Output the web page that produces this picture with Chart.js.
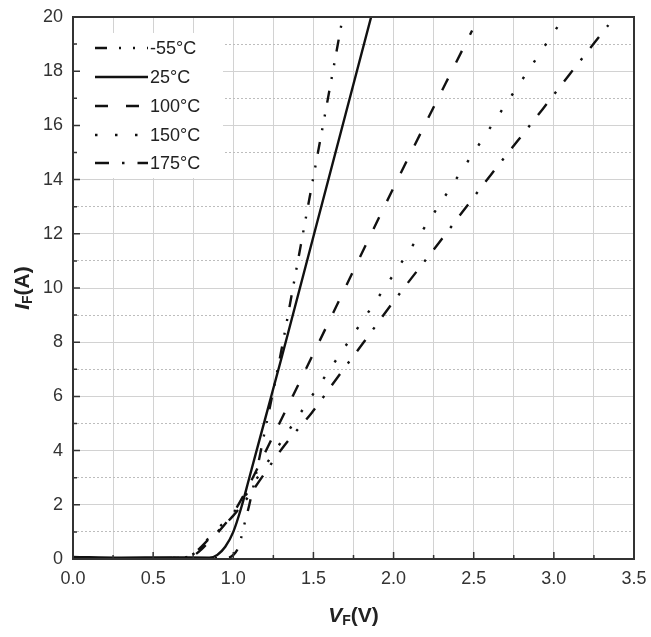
<!DOCTYPE html>
<html>
<head>
<meta charset="utf-8">
<script src="https://cdn.jsdelivr.net/npm/chart.js@4.4.1/dist/chart.umd.min.js"></script>
<style>
html, body { margin: 0; padding: 0; background: #fff; }
</style>
</head>
<body>
<canvas id="chart" width="651" height="637"></canvas>
<script>
// forward voltage (V) / forward current (A)
const vfM55 = [0, 0.5, 0.9, 0.97, 1.0, 1.03, 1.05, 1.07, 1.1, 1.2, 1.3, 1.4, 1.5, 1.6, 1.68];
const ifM55 = [0.03, 0.03, 0.03, 0.05, 0.15, 0.4, 0.8, 1.3, 2.0, 4.8, 7.7, 10.9, 14.1, 17.3, 19.9];

const vf25 = [0, 0.3, 0.6, 0.85, 0.9, 0.95, 1.0, 1.05, 1.1, 1.2, 1.3, 1.5, 1.7, 1.86];
const if25 = [0.08, 0.05, 0.06, 0.05, 0.15, 0.45, 1.0, 1.9, 3.0, 5.2, 7.4, 11.9, 16.4, 20];

const vf100 = [0, 0.5, 0.7, 0.75, 0.8, 0.85, 0.9, 1.0, 1.1, 1.2, 1.37, 1.6, 2.0, 2.49];
const if100 = [0.03, 0.03, 0.05, 0.12, 0.35, 0.65, 0.95, 1.7, 2.75, 3.95, 6.0, 8.8, 13.7, 19.5];

const vf150 = [0, 0.5, 0.7, 0.75, 0.8, 0.85, 0.9, 0.95, 1.0, 1.1, 1.2, 1.5, 2.0, 2.5, 3.03];
const if150 = [0.03, 0.03, 0.06, 0.18, 0.45, 0.8, 1.1, 1.4, 1.7, 2.55, 3.45, 6.1, 10.5, 15.0, 19.7];

const vf175 = [0, 0.5, 0.7, 0.75, 0.8, 0.85, 0.9, 1.0, 1.1, 1.2, 1.32, 1.49, 1.65, 1.81, 2.0, 2.3, 2.61, 2.93, 3.1, 3.34];
const if175 = [0.03, 0.03, 0.06, 0.18, 0.45, 0.75, 1.0, 1.6, 2.35, 3.2, 4.2, 5.4, 6.7, 7.97, 9.5, 11.8, 14.2, 16.6, 17.9, 19.7];

const labels = ['-55°C', '25°C', '100°C', '150°C', '175°C'];
const dashes = [[12, 12, 2, 12, 2, 12], [], [13, 18], [2.5, 17.5], [14, 13, 2.5, 13]];

const FONT = '"Liberation Sans", Arial, sans-serif';

function toPoints(xs, ys) {
    return xs.map((x, i) => ({ x: x, y: ys[i] }));
}

const series = [
    toPoints(vfM55, ifM55),
    toPoints(vf25, if25),
    toPoints(vf100, if100),
    toPoints(vf150, if150),
    toPoints(vf175, if175)
];

const datasets = series.map((pts, i) => ({
    label: labels[i],
    data: pts,
    borderColor: '#111',
    borderWidth: 2.4,
    borderDash: dashes[i],
    pointRadius: 0,
    fill: false,
    cubicInterpolationMode: 'monotone'
}));

function drawTitle(ctx, x, y, main, sub, rest) {
    ctx.font = 'italic bold 21px ' + FONT;
    const w1 = ctx.measureText(main).width;
    ctx.font = 'bold 14px ' + FONT;
    const w2 = ctx.measureText(sub).width;
    ctx.font = 'bold 21px ' + FONT;
    const w3 = ctx.measureText(rest).width;
    let sx = x - (w1 + w2 + w3) / 2;
    ctx.textBaseline = 'alphabetic';
    ctx.textAlign = 'left';
    ctx.font = 'italic bold 21px ' + FONT;
    ctx.fillText(main, sx, y + 7);
    sx += w1;
    ctx.font = 'bold 14px ' + FONT;
    ctx.fillText(sub, sx, y + 10);
    sx += w2;
    ctx.font = 'bold 21px ' + FONT;
    ctx.fillText(rest, sx, y + 7);
}

const extras = {
    id: 'extras',
    beforeDatasetsDraw(chart) {
        // white box behind the legend hides the grid
        const ctx = chart.ctx;
        ctx.save();
        ctx.fillStyle = '#fff';
        ctx.fillRect(76, 33, 147, 145);
        ctx.restore();
    },
    afterDraw(chart) {
        const { ctx, chartArea: a, scales } = chart;
        ctx.save();

        // inward tick marks
        ctx.strokeStyle = '#333';
        ctx.lineWidth = 1.5;
        ctx.beginPath();
        for (let i = 1; i < 14; i++) {
            const px = scales.x.getPixelForValue(i * 0.25);
            const len = i % 2 === 0 ? 7 : 4;
            ctx.moveTo(px, a.bottom);
            ctx.lineTo(px, a.bottom - len);
        }
        for (let v = 1; v < 20; v++) {
            const py = scales.y.getPixelForValue(v);
            const len = v % 2 === 0 ? 7 : 4;
            ctx.moveTo(a.left, py);
            ctx.lineTo(a.left + len, py);
        }
        ctx.stroke();

        // frame
        ctx.strokeStyle = '#333';
        ctx.lineWidth = 2;
        ctx.strokeRect(a.left, a.top, a.right - a.left, a.bottom - a.top);

        // legend
        const ys = [48, 77, 106, 135, 163];
        ctx.fillStyle = '#222';
        ctx.font = '18px ' + FONT;
        ctx.textBaseline = 'middle';
        ctx.textAlign = 'left';
        labels.forEach((lab, i) => {
            ctx.beginPath();
            ctx.strokeStyle = '#111';
            ctx.lineWidth = 2.6;
            ctx.setLineDash(dashes[i]);
            ctx.moveTo(95, ys[i]);
            ctx.lineTo(148, ys[i]);
            ctx.stroke();
            ctx.setLineDash([]);
            ctx.fillText(lab, 150, ys[i] + 1);
        });

        // axis titles
        ctx.fillStyle = '#222';
        drawTitle(ctx, (a.left + a.right) / 2, 615, 'V', 'F', '(V)');
        ctx.translate(22, (a.top + a.bottom) / 2);
        ctx.rotate(-Math.PI / 2);
        drawTitle(ctx, 0, 0, 'I', 'F', '(A)');
        ctx.restore();
    }
};

new Chart(document.getElementById('chart').getContext('2d'), {
    type: 'line',
    data: { datasets: datasets },
    options: {
        responsive: false,
        devicePixelRatio: 1,
        animation: false,
        layout: { padding: { left: 0, right: 17, top: 17, bottom: 0 } },
        plugins: {
            legend: { display: false },
            tooltip: { enabled: false }
        },
        scales: {
            x: {
                type: 'linear',
                min: 0,
                max: 3.5,
                afterFit: scale => {
                    scale.height = 78;
                    scale.paddingLeft = 0;
                    scale.paddingRight = 0;
                },
                ticks: {
                    stepSize: 0.25,
                    autoSkip: false,
                    maxRotation: 0,
                    padding: 9,
                    color: '#333',
                    font: { family: FONT, size: 18 },
                    callback: v => (Math.abs(v * 2 - Math.round(v * 2)) < 1e-6 ? v.toFixed(1) : '')
                },
                grid: { color: '#d2d2d2', lineWidth: 1, drawTicks: false },
                border: { display: false }
            },
            y: {
                min: 0,
                max: 20,
                afterFit: scale => {
                    scale.width = 73;
                    scale.paddingTop = 0;
                    scale.paddingBottom = 0;
                },
                ticks: {
                    stepSize: 1,
                    autoSkip: false,
                    padding: 10,
                    color: '#333',
                    font: { family: FONT, size: 18 },
                    callback: v => (v % 2 === 0 ? v : '')
                },
                grid: {
                    color: c => (c.tick && c.tick.value % 2 ? '#bdbdbd' : '#d2d2d2'),
                    lineWidth: 1,
                    drawTicks: false
                },
                border: {
                    display: false,
                    dash: c => (c.tick && c.tick.value % 2 ? [2, 2] : [])
                }
            }
        }
    },
    plugins: [extras]
});
</script>
</body>
</html>
